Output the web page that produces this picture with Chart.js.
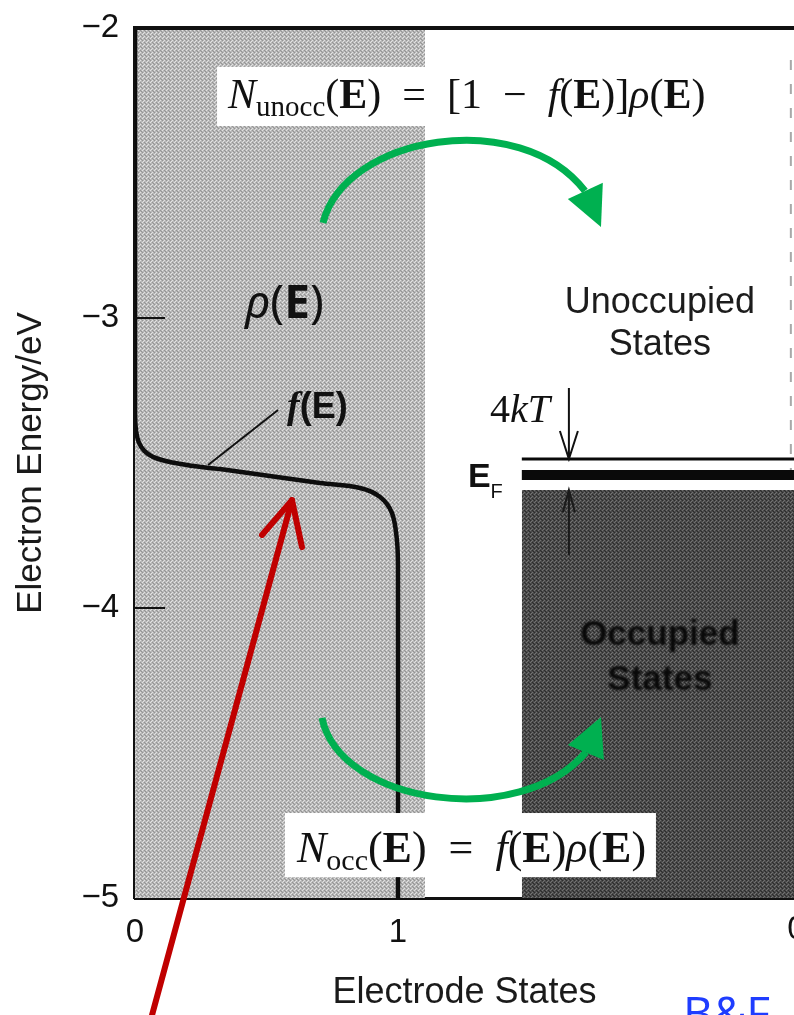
<!DOCTYPE html>
<html>
<head>
<meta charset="utf-8">
<script src="https://cdn.jsdelivr.net/npm/chart.js@4.4.1/dist/chart.umd.min.js"></script>
<style>
  html, body { margin: 0; padding: 0; background: #fff; }
  #wrap { width: 794px; height: 1015px; }
</style>
</head>
<body>
<div id="wrap"><canvas id="chart" width="794" height="1015"></canvas></div>
<script>
// Fermi function f(E): fraction of electrode states occupied vs electron energy
const fermiStates = [0, 0, 0.015, 0.068, 0.198, 0.323, 0.513, 0.703, 0.856, 0.932, 0.977, 0.996, 1, 1];
const fermiEnergy = [-2, -3.33, -3.43, -3.479, -3.507, -3.521, -3.545, -3.569, -3.586, -3.617, -3.672, -3.766, -3.86, -5];

// density of states rho(E) of the electrode (light band) and the occupied block
const densityBand = [0, 1.103];
const occupiedBand = [1.471, 2.506];
const occupiedTop = -3.593;
// Fermi level and the upper edge of the 4kT window
const fermiLevel = -3.541;
const windowTop = -3.486;

const xTicks = [0, 1];
const yTicks = [-2, -3, -4, -5];
const xRange = [0, 2.506];
const yRange = [-5, -2];

const SANS = '"Liberation Sans", Arial, sans-serif';
const SERIF = '"Liberation Serif", "Times New Roman", serif';

// labels, arrows and boxes, placed in data units
const notes = {
  upperBox: { x0: 0.312, x1: 1.2, y0: -2.134, y1: -2.338 },
  lowerBox: { x0: 0.570, x1: 1.981, y0: -4.707, y1: -4.928 },
  upperFormula: [0.354, -2.276],
  lowerFormula: [0.616, -4.876],
  upperArc: { from: [0.715, -2.672], c1: [0.798, -2.369], c2: [1.464, -2.270], to: [1.711, -2.562],
              head: [[1.646, -2.590], [1.772, -2.686], [1.779, -2.534]] },
  lowerArc: { from: [0.711, -4.379], c1: [0.779, -4.679], c2: [1.464, -4.766], to: [1.715, -4.497],
              head: [[1.646, -4.472], [1.772, -4.376], [1.783, -4.524]] },
  redArrow: { tail: [0.065, -5.403], tip: [0.597, -3.628], wings: [[0.483, -3.748], [0.635, -3.790]] },
  rho: [0.418, -3.0],
  fLabel: [0.578, -3.345],
  fLeader: [[0.278, -3.507], [0.544, -3.317]],
  unocc: [1.996, -2.983, -3.128],
  occ: [1.996, -4.128, -4.283],
  kT: [1.35, -3.359],
  kTArrow: { x: 1.65, from: -3.241, to: windowTop },
  kTArrowLow: { x: 1.65, from: -3.817, to: occupiedTop },
  ef: [1.266, -3.583],
  sideDash: { x: 2.494, from: -2.11, to: -3.524 },
  innerTicks: [-3, -4],
  edgeZero: 2.515,
  tag: [2.084, -5.455]
};

const canvas = document.getElementById('chart');
const ctx = canvas.getContext('2d');

// screened grey fills
function halftone(base, light, dark) {
  const c = document.createElement('canvas');
  c.width = 4; c.height = 4;
  const g = c.getContext('2d');
  g.fillStyle = base; g.fillRect(0, 0, 4, 4);
  g.fillStyle = light; g.fillRect(0, 0, 1, 1); g.fillRect(2, 2, 1, 1); g.fillRect(3, 1, 1, 1);
  g.fillStyle = dark; g.fillRect(2, 0, 1, 1); g.fillRect(0, 2, 1, 1); g.fillRect(1, 3, 1, 1);
  return ctx.createPattern(c, 'repeat');
}
const lightFill = halftone('#b8b8b8', '#e2e2e2', '#949494');
const darkFill = halftone('#4a4a4a', '#727272', '#2c2c2c');

const pts = (xs, ys) => xs.map((x, i) => ({ x, y: ys[i] }));

function rich(c, x, y, parts) {
  let cx = x;
  for (const [t, font, dy] of parts) {
    c.font = font;
    c.fillText(t, cx, y + (dy || 0));
    cx += c.measureText(t).width;
  }
}

const annotate = {
  id: 'annotate',
  afterDatasetsDraw(chart) {
    const c = chart.ctx;
    const sx = chart.scales.x, sy = chart.scales.y;
    const P = (p) => [sx.getPixelForValue(p[0]), sy.getPixelForValue(p[1])];
    c.save();

    // inner tick marks on the energy axis
    c.strokeStyle = '#111'; c.lineWidth = 2;
    for (const v of notes.innerTicks) {
      const y = sy.getPixelForValue(v);
      c.beginPath(); c.moveTo(sx.left, y); c.lineTo(sx.left + 30, y); c.stroke();
    }

    // faint dashed edge on the right
    c.strokeStyle = '#a8a8a8'; c.lineWidth = 2; c.setLineDash([10, 14]);
    c.beginPath();
    c.moveTo(...P([notes.sideDash.x, notes.sideDash.from]));
    c.lineTo(...P([notes.sideDash.x, notes.sideDash.to]));
    c.stroke();
    c.setLineDash([]);

    // white formula boxes
    c.fillStyle = '#fff';
    for (const b of [notes.upperBox, notes.lowerBox]) {
      const [x0, y0] = P([b.x0, b.y0]);
      const [x1, y1] = P([b.x1, b.y1]);
      c.fillRect(x0, y0, x1 - x0, y1 - y0);
    }

    c.fillStyle = '#111';
    c.textBaseline = 'alphabetic';
    c.textAlign = 'left';
    const face = (fs) => ({
      it: `italic ${fs}px ${SERIF}`, rm: `${fs}px ${SERIF}`, bd: `bold ${fs}px ${SERIF}`,
      sb: `${Math.round(fs * 0.69)}px ${SERIF}`
    });
    let f = face(42);
    let [fx, fy] = P(notes.upperFormula);
    rich(c, fx, fy, [['N', f.it], ['unocc', f.sb, 8], ['(', f.rm], ['E', f.bd], [')  =  [1  \u2212  ', f.rm],
      ['f', f.it], ['(', f.rm], ['E', f.bd], [')]', f.rm], ['\u03c1', f.it], ['(', f.rm], ['E', f.bd], [')', f.rm]]);
    f = face(44);
    [fx, fy] = P(notes.lowerFormula);
    rich(c, fx, fy, [['N', f.it], ['occ', f.sb, 8], ['(', f.rm], ['E', f.bd], [')  =  ', f.rm],
      ['f', f.it], ['(', f.rm], ['E', f.bd], [')', f.rm], ['\u03c1', f.it], ['(', f.rm], ['E', f.bd], [')', f.rm]]);

    // rho(E) and f(E) labels
    const NS = '"Noto Sans", sans-serif';
    let [lx, ly] = P(notes.rho);
    rich(c, lx, ly, [['\u03c1', `italic 46px ${NS}`], ['(', `46px ${NS}`], ['E', `bold 46px ${NS}`], [')', `46px ${NS}`]]);
    [lx, ly] = P(notes.fLabel);
    rich(c, lx, ly, [['f', `italic bold 38px ${SERIF}`], ['(E)', `bold 36px ${SANS}`]]);
    c.strokeStyle = '#111'; c.lineWidth = 2;
    c.beginPath(); c.moveTo(...P(notes.fLeader[0])); c.lineTo(...P(notes.fLeader[1])); c.stroke();

    // state labels
    c.textAlign = 'center';
    c.font = `36px ${SANS}`;
    c.fillStyle = '#1c1c1c';
    const [ux] = P([notes.unocc[0], 0]);
    c.fillText('Unoccupied', ux, sy.getPixelForValue(notes.unocc[1]));
    c.fillText('States', ux, sy.getPixelForValue(notes.unocc[2]));
    c.save();
    c.filter = 'blur(0.8px)';
    c.fillStyle = '#080808';
    c.font = `bold 35px ${SANS}`;
    c.fillText('Occupied', ux, sy.getPixelForValue(notes.occ[1]));
    c.fillText('States', ux, sy.getPixelForValue(notes.occ[2]));
    c.restore();

    // 4kT marker and E_F
    c.textAlign = 'left';
    c.fillStyle = '#111';
    [lx, ly] = P(notes.kT);
    rich(c, lx, ly, [['4', `40px ${SERIF}`], ['k', `italic 40px ${SERIF}`], ['T', `italic 40px ${SERIF}`]]);
    const ka = notes.kTArrow;
    let [ax, ay0] = P([ka.x, ka.from]);
    let [, ay1] = P([ka.x, ka.to]);
    c.strokeStyle = '#111'; c.lineWidth = 2;
    c.beginPath(); c.moveTo(ax, ay0); c.lineTo(ax, ay1);
    c.moveTo(ax - 9, ay1 - 28); c.lineTo(ax, ay1); c.lineTo(ax + 9, ay1 - 28); c.stroke();
    const kb = notes.kTArrowLow;
    [ax, ay0] = P([kb.x, kb.from]);
    [, ay1] = P([kb.x, kb.to]);
    c.strokeStyle = '#1a1a1a'; c.lineWidth = 2;
    c.beginPath(); c.moveTo(ax, ay0); c.lineTo(ax, ay1);
    c.moveTo(ax - 6, ay1 + 22); c.lineTo(ax, ay1); c.lineTo(ax + 6, ay1 + 22); c.stroke();
    [lx, ly] = P(notes.ef);
    rich(c, lx, ly, [['E', `bold 34px ${SANS}`], ['F', `20px ${SANS}`, 11]]);

    // green transfer arrows
    c.strokeStyle = '#00b050'; c.fillStyle = '#00b050'; c.lineWidth = 7;
    for (const a of [notes.upperArc, notes.lowerArc]) {
      c.beginPath();
      c.moveTo(...P(a.from));
      c.bezierCurveTo(...P(a.c1), ...P(a.c2), ...P(a.to));
      c.stroke();
      c.beginPath();
      c.moveTo(...P(a.head[0])); c.lineTo(...P(a.head[1])); c.lineTo(...P(a.head[2]));
      c.closePath(); c.fill();
    }
    c.restore();
  },
  afterDraw(chart) {
    const c = chart.ctx;
    const sx = chart.scales.x, sy = chart.scales.y;
    const P = (p) => [sx.getPixelForValue(p[0]), sy.getPixelForValue(p[1])];
    c.save();
    // top frame
    c.strokeStyle = '#111'; c.lineWidth = 4;
    c.beginPath(); c.moveTo(sx.left - 2, sy.top); c.lineTo(sx.right, sy.top); c.stroke();

    // tick label of the neighbouring panel
    c.fillStyle = '#111'; c.font = `33px ${SANS}`; c.textAlign = 'center'; c.textBaseline = 'top';
    c.fillText('0', sx.getPixelForValue(notes.edgeZero), sy.bottom + 15);

    // red pointer onto f(E)
    const r = notes.redArrow;
    c.strokeStyle = '#c00000'; c.lineWidth = 6; c.lineCap = 'round'; c.lineJoin = 'round';
    c.beginPath(); c.moveTo(...P(r.tail)); c.lineTo(...P(r.tip)); c.stroke();
    c.beginPath(); c.moveTo(...P(r.wings[0])); c.lineTo(...P(r.tip)); c.lineTo(...P(r.wings[1])); c.stroke();

    // corner tag
    c.fillStyle = '#1f3dff'; c.font = `46px "Open Sans", sans-serif`;
    c.textAlign = 'left'; c.textBaseline = 'alphabetic';
    c.fillText('B&F', ...P(notes.tag));
    c.restore();
  }
};

const minus = (v) => (v < 0 ? '\u2212' + Math.abs(v) : String(v));

new Chart(ctx, {
  type: 'scatter',
  data: {
    datasets: [
      {
        label: 'f(E)',
        data: pts(fermiStates, fermiEnergy),
        showLine: true, borderColor: '#0d0d0d', borderWidth: 4.5,
        pointRadius: 0, tension: 0.35, fill: false, order: 1
      },
      {
        label: 'E_F',
        data: pts(occupiedBand, [fermiLevel, fermiLevel]),
        showLine: true, borderColor: '#0a0a0a', borderWidth: 10,
        pointRadius: 0, fill: false, order: 2
      },
      {
        label: '4kT edge',
        data: pts(occupiedBand, [windowTop, windowTop]),
        showLine: true, borderColor: '#0a0a0a', borderWidth: 3,
        pointRadius: 0, fill: false, order: 3
      },
      {
        label: 'occupied',
        data: pts(occupiedBand, [occupiedTop, occupiedTop]),
        showLine: true, borderWidth: 0, borderColor: 'rgba(0,0,0,0)',
        backgroundColor: darkFill, pointRadius: 0, fill: { value: yRange[0] }, order: 4
      },
      {
        label: 'rho(E)',
        data: pts(densityBand, [yRange[1], yRange[1]]),
        showLine: true, borderWidth: 0, borderColor: 'rgba(0,0,0,0)',
        backgroundColor: lightFill, pointRadius: 0, fill: { value: yRange[0] }, order: 5
      }
    ]
  },
  options: {
    responsive: false,
    animation: false,
    events: [],
    layout: { padding: { top: 28, right: 0, left: 0, bottom: 0 } },
    plugins: { legend: { display: false }, tooltip: { enabled: false } },
    scales: {
      x: {
        type: 'linear', min: xRange[0], max: xRange[1],
        afterFit: (s) => { s.height = 117; s.paddingLeft = 0; s.paddingRight = 0; },
        afterBuildTicks: (s) => { s.ticks = xTicks.map((v) => ({ value: v })); },
        grid: { display: false, drawTicks: false },
        border: { display: true, color: '#111', width: 3 },
        ticks: { padding: 15, color: '#111', font: { family: SANS, size: 33 }, callback: minus },
        title: { display: true, text: 'Electrode States', color: '#1a1a1a',
                 font: { family: SANS, size: 36 }, padding: { top: 0, bottom: 0 } }
      },
      y: {
        type: 'linear', min: yRange[0], max: yRange[1],
        afterFit: (s) => { s.width = 135; s.paddingTop = 0; s.paddingBottom = 0; },
        afterBuildTicks: (s) => { s.ticks = yTicks.map((v) => ({ value: v })); },
        grid: { display: false, drawTicks: false },
        border: { display: true, color: '#111', width: 4 },
        ticks: { padding: 16, color: '#111', font: { family: SANS, size: 33 }, callback: minus },
        title: { display: true, text: 'Electron Energy/eV', color: '#1a1a1a',
                 font: { family: SANS, size: 35 }, padding: { top: 10, bottom: 0 } }
      }
    }
  },
  plugins: [annotate]
});
</script>
</body>
</html>
